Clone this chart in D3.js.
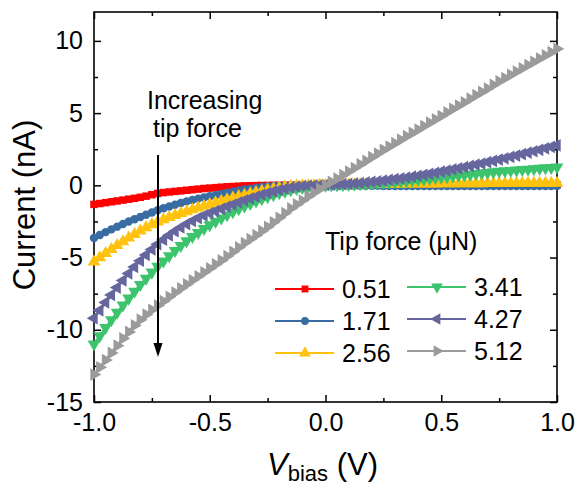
<!DOCTYPE html>
<html><head><meta charset="utf-8">
<script src="https://cdn.jsdelivr.net/npm/d3@7"></script>
<style>
html,body{margin:0;padding:0;background:#fff;}
svg{display:block;font-family:"Liberation Sans",Arial,sans-serif;}
</style></head>
<body>
<svg id="chart" width="576" height="487"></svg>
<script>
const biasV = [-1.000,-0.975,-0.950,-0.925,-0.900,-0.875,-0.850,-0.825,-0.800,-0.775,
-0.750,-0.725,-0.700,-0.675,-0.650,-0.625,-0.600,-0.575,-0.550,-0.525,
-0.500,-0.475,-0.450,-0.425,-0.400,-0.375,-0.350,-0.325,-0.300,-0.275,
-0.250,-0.225,-0.200,-0.175,-0.150,-0.125,-0.100,-0.075,-0.050,-0.025,
0.000,0.025,0.050,0.075,0.100,0.125,0.150,0.175,0.200,0.225,
0.250,0.275,0.300,0.325,0.350,0.375,0.400,0.425,0.450,0.475,
0.500,0.525,0.550,0.575,0.600,0.625,0.650,0.675,0.700,0.725,
0.750,0.775,0.800,0.825,0.850,0.875,0.900,0.925,0.950,0.975,1.000];

const cur051 = [-1.32,-1.26,-1.20,-1.14,-1.08,-1.02,-0.96,-0.90,-0.83,-0.75,
-0.65,-0.56,-0.50,-0.46,-0.42,-0.38,-0.34,-0.30,-0.26,-0.22,
-0.19,-0.16,-0.13,-0.10,-0.08,-0.06,-0.04,-0.03,-0.02,-0.01,
-0.01,0,0,0,0,0,0,0,0,0,
0,
0.01,0.01,0.01,0.01,0.01,0.01,0.01,0.01,0.01,0.01,
0.02,0.02,0.02,0.02,0.02,0.02,0.02,0.02,0.02,0.02,
0.02,0.02,0.02,0.02,0.02,0.02,0.02,0.02,0.02,0.02,
0.03,0.03,0.03,0.03,0.03,0.03,0.03,0.03,0.03,0.03];

const cur171 = [-3.65,-3.44,-3.24,-3.05,-2.86,-2.68,-2.51,-2.35,-2.19,-2.03,
-1.88,-1.73,-1.59,-1.46,-1.34,-1.22,-1.11,-1.01,-0.92,-0.84,
-0.76,-0.68,-0.60,-0.52,-0.44,-0.36,-0.29,-0.23,-0.17,-0.12,
-0.08,-0.05,-0.03,-0.02,-0.01,-0.01,0,0,0,0,
0,
-0.01,-0.01,-0.02,-0.02,-0.02,-0.03,-0.03,-0.03,-0.03,-0.04,
-0.04,-0.04,-0.04,-0.04,-0.04,-0.04,-0.04,-0.04,-0.04,-0.04,
-0.05,-0.05,-0.05,-0.05,-0.05,-0.05,-0.05,-0.05,-0.05,-0.05,
-0.05,-0.05,-0.05,-0.05,-0.05,-0.05,-0.05,-0.05,-0.05,-0.05];

const cur256 = [-5.30,-5.00,-4.71,-4.43,-4.16,-3.90,-3.64,-3.39,-3.15,-2.93,
-2.72,-2.53,-2.37,-2.22,-2.08,-1.94,-1.81,-1.68,-1.55,-1.43,
-1.31,-1.20,-1.09,-0.98,-0.87,-0.77,-0.67,-0.57,-0.48,-0.39,
-0.31,-0.24,-0.17,-0.11,-0.07,-0.04,-0.02,-0.01,0.00,0.01,
0.02,
0.03,0.04,0.04,0.05,0.05,0.06,0.06,0.07,0.07,0.08,
0.08,0.09,0.09,0.10,0.10,0.10,0.11,0.11,0.11,0.12,
0.12,0.12,0.12,0.13,0.13,0.13,0.13,0.14,0.14,0.14,
0.14,0.14,0.15,0.15,0.15,0.15,0.15,0.16,0.16,0.16];

const cur341 = [-11.00,-10.42,-9.86,-9.32,-8.80,-8.30,-7.82,-7.34,-6.88,-6.44,
-6.02,-5.62,-5.25,-4.88,-4.52,-4.18,-3.85,-3.55,-3.27,-3.00,
-2.74,-2.50,-2.27,-2.05,-1.84,-1.64,-1.45,-1.27,-1.10,-0.94,
-0.80,-0.66,-0.53,-0.42,-0.32,-0.23,-0.16,-0.10,-0.05,-0.02,
0.00,
0.01,0.02,0.03,0.05,0.07,0.09,0.11,0.13,0.15,0.17,
0.20,0.23,0.27,0.31,0.35,0.39,0.43,0.47,0.51,0.55,
0.59,0.63,0.68,0.72,0.76,0.80,0.84,0.88,0.92,0.96,
0.99,1.02,1.05,1.08,1.11,1.14,1.17,1.20,1.22,1.25];

const cur427 = [-9.20,-8.65,-8.11,-7.59,-7.08,-6.58,-6.10,-5.65,-5.22,-4.82,
-4.44,-4.08,-3.76,-3.46,-3.18,-2.92,-2.68,-2.47,-2.27,-2.09,
-1.93,-1.78,-1.63,-1.48,-1.33,-1.18,-1.04,-0.91,-0.78,-0.65,
-0.53,-0.42,-0.32,-0.23,-0.15,-0.09,-0.05,-0.02,0.00,0.01,
0.03,
0.04,0.06,0.08,0.10,0.13,0.16,0.20,0.24,0.28,0.33,
0.38,0.43,0.48,0.54,0.60,0.66,0.73,0.80,0.87,0.95,
1.02,1.10,1.18,1.26,1.34,1.43,1.51,1.60,1.69,1.78,
1.87,1.97,2.06,2.16,2.26,2.36,2.46,2.56,2.66,2.77];

const cur512 = [-13.10,-12.60,-12.10,-11.60,-11.10,-10.60,-10.15,-9.70,-9.30,-8.95,
-8.62,-8.32,-8.02,-7.72,-7.42,-7.13,-6.85,-6.57,-6.30,-6.02,
-5.75,-5.47,-5.20,-4.90,-4.60,-4.30,-4.00,-3.72,-3.45,-3.16,
-2.87,-2.56,-2.25,-1.92,-1.60,-1.32,-1.05,-0.77,-0.50,-0.24,
0.02,
0.24,0.47,0.71,0.95,1.20,1.45,1.70,1.95,2.20,2.45,
2.68,2.92,3.16,3.40,3.63,3.86,4.10,4.34,4.57,4.80,
5.05,5.30,5.52,5.75,6.00,6.24,6.47,6.70,6.95,7.20,
7.42,7.65,7.88,8.10,8.33,8.55,8.78,9.00,9.22,9.45];

const forceLabels = ["0.51","1.71","2.56","3.41","4.27","5.12"];
const seriesValues = [cur051, cur171, cur256, cur341, cur427, cur512];
const seriesColors = ["#ff0000","#3a6ca4","#ffc20e","#3cc46c","#66669f","#9b9b9b"];
const seriesShapes = ["square","circle","up","down","left","right"];

const xTicks = [-1.0,-0.5,0.0,0.5,1.0];
const xTickLabels = ["-1.0","-0.5","0.0","0.5","1.0"];
const xMinor = [-0.75,-0.25,0.25,0.75];
const yTicks = [-15,-10,-5,0,5,10];
const yTickLabels = ["-15","-10","-5","0","5","10"];
const yMinor = [-12.5,-7.5,-2.5,2.5,7.5];

const svg = d3.select("#chart");
const L = 94, R = 557, T = 12, B = 402;
const x = d3.scaleLinear().domain([-1, 1]).range([L, R]);
const y = d3.scaleLinear().domain([-15, 12]).range([B, T]);

const FS = 25;

function addAxis(gen, tr, vals, size, labels){
  const g = svg.append("g").attr("transform", tr)
    .call(gen.tickValues(vals).tickSize(size).tickPadding(11)
      .tickFormat(labels ? ((d,i) => labels[i]) : () => ""));
  g.select(".domain").remove();
  g.selectAll(".tick line").attr("stroke","#000").attr("stroke-width",1.5);
  g.selectAll("text").attr("font-size",FS).attr("fill","#000")
    .attr("font-family","'Liberation Sans', Arial, sans-serif");
  return g;
}
addAxis(d3.axisBottom(x), `translate(0,${B})`, xTicks, -7, xTickLabels);
addAxis(d3.axisBottom(x), `translate(0,${B})`, xMinor, -4, null);
addAxis(d3.axisTop(x), `translate(0,${T})`, xTicks, -7, null);
addAxis(d3.axisTop(x), `translate(0,${T})`, xMinor, -4, null);
addAxis(d3.axisLeft(y), `translate(${L},0)`, yTicks, -7, yTickLabels);
addAxis(d3.axisLeft(y), `translate(${L},0)`, yMinor, -4, null);
addAxis(d3.axisRight(y), `translate(${R},0)`, yTicks, -7, null);
addAxis(d3.axisRight(y), `translate(${R},0)`, yMinor, -4, null);

svg.append("rect").attr("x",L).attr("y",T).attr("width",R-L).attr("height",B-T)
  .attr("fill","none").attr("stroke","#000").attr("stroke-width",1.6);

function symbolPath(shape, scale){
  const k = scale || 1;
  if (shape === "square") return d3.symbol().type(d3.symbolSquare).size(56*k)();
  if (shape === "circle") return d3.symbol().type(d3.symbolCircle).size(56*k)();
  return d3.symbol().type(d3.symbolTriangle).size(70*k)();
}
function symbolRot(shape){
  return {up:0, down:180, left:-90, right:90}[shape] || 0;
}

const plot = svg.append("g");
const line = d3.line().x((d,i) => x(biasV[i])).y(d => y(d));
seriesValues.forEach((vals, s) => {
  const g = plot.append("g");
  g.append("path").datum(vals).attr("d", line).attr("fill","none")
    .attr("stroke", seriesColors[s]).attr("stroke-width", 2.5);
  g.selectAll("path.m").data(vals).join("path").attr("class","m")
    .attr("d", symbolPath(seriesShapes[s]))
    .attr("transform",(d,i) => `translate(${x(biasV[i])},${y(d)}) rotate(${symbolRot(seriesShapes[s])})`)
    .attr("fill", seriesColors[s]);
});

svg.append("text").attr("transform","translate(35,205) rotate(-90)")
  .attr("text-anchor","middle").attr("font-size",31).text("Current (nA)");
const xt = svg.append("text").attr("x",267).attr("y",475).attr("font-size",31);
xt.append("tspan").attr("font-style","italic").text("V");
xt.append("tspan").attr("font-size",22).attr("dy",6).text("bias");
xt.append("tspan").attr("dy",-6).text(" (V)");

svg.append("text").attr("x",147).attr("y",109).attr("font-size",FS).text("Increasing");
svg.append("text").attr("x",153).attr("y",137).attr("font-size",FS).text("tip force");
svg.append("line").attr("x1",158).attr("x2",158).attr("y1",155).attr("y2",346)
  .attr("stroke","#000").attr("stroke-width",2);
svg.append("path").attr("d","M153.5,343 L162.5,343 L158,357 Z").attr("fill","#000");

svg.append("text").attr("x",325).attr("y",250).attr("font-size",FS).text("Tip force (\u03bcN)");
const legPos = [[275,289],[275,321],[275,353],[407,287],[407,319],[407,351]];
forceLabels.forEach((lab, s) => {
  const [lx, ly] = legPos[s];
  const g = svg.append("g").attr("transform",`translate(${lx},${ly})`);
  g.append("line").attr("x1",0).attr("x2",59).attr("y1",0).attr("y2",0)
    .attr("stroke",seriesColors[s]).attr("stroke-width",2);
  g.append("path").attr("d",symbolPath(seriesShapes[s], 0.85))
    .attr("transform",`translate(30,0) rotate(${symbolRot(seriesShapes[s])})`)
    .attr("fill",seriesColors[s]);
  g.append("text").attr("x",67).attr("y",9).attr("font-size",FS).text(lab);
});
</script>
</body></html>
